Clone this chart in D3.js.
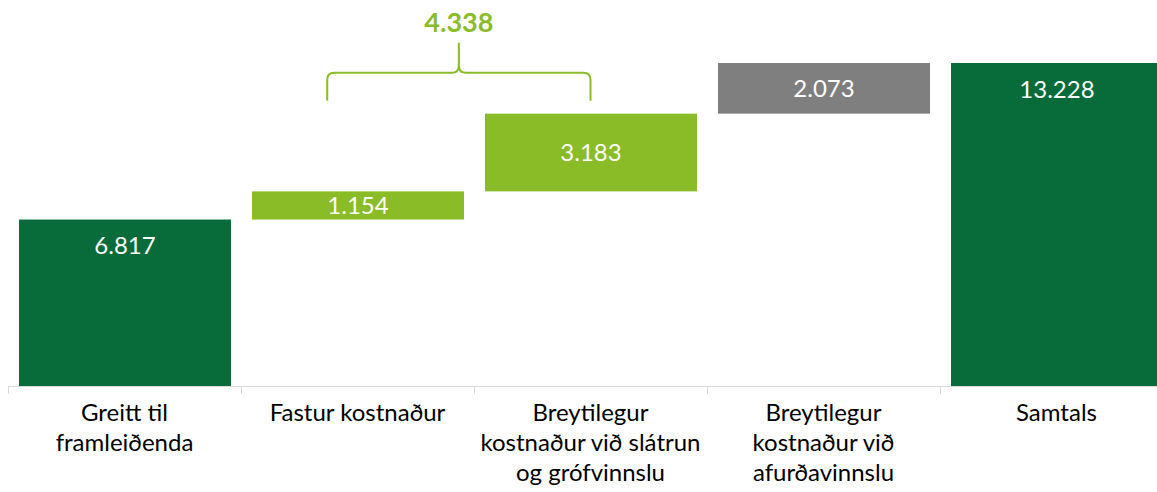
<!DOCTYPE html>
<html>
<head>
<meta charset="utf-8">
<script src="https://cdn.jsdelivr.net/npm/d3@7"></script>
<style>
  body { margin: 0; background: #fff; }
  svg { display: block; font-family: Lato, "Open Sans", sans-serif; }
</style>
</head>
<body>
<div id="chart"></div>
<script>
// chart data
var categories = ["Greitt til framleiðenda", "Fastur kostnaður", "Breytilegur kostnaður við slátrun og grófvinnslu", "Breytilegur kostnaður við afurðavinnslu", "Samtals"];
var labelLines = [["Greitt til", "framleiðenda"], ["Fastur kostnaður"], ["Breytilegur", "kostnaður við slátrun", "og grófvinnslu"], ["Breytilegur", "kostnaður við", "afurðavinnslu"], ["Samtals"]];
var values = [6.817, 1.154, 3.183, 2.073, 13.228];
var barTypes = ["total", "delta", "delta", "delta", "total"];
var valueLabels = ["6.817", "1.154", "3.183", "2.073", "13.228"];
var bracketValue = "4.338";
var bracketFrom = 1, bracketTo = 2;

// styling
var barColors = ["#076b3a", "#8abc28", "#8abc28", "#7f7f7f", "#076b3a"];
var accent = "#8abc28";

var svgWidth = 1157;
var svgHeight = 492;
var baseY = 386;

var svg = d3.select("#chart")
  .append("svg")
  .attr("width", svgWidth)
  .attr("height", svgHeight);

// work out floating bar starts (waterfall)
var running = 0;
var bars = values.map(function(v, i) {
  var start = barTypes[i] === "total" ? 0 : running;
  var end = barTypes[i] === "total" ? v : running + v;
  if (barTypes[i] === "total") running = v; else running = end;
  return {cat: categories[i], start: start, end: end, i: i};
});

var x = d3.scaleBand()
  .domain(categories)
  .range([8, 8 + 233 * 5])
  .padding(0);

var y = d3.scaleLinear()
  .domain([0, 13.228])
  .range([baseY, 63]);

var inset = 11;
var barW = x.bandwidth() - 2 * inset + 1;

// bars
svg.selectAll("rect.bar")
  .data(bars)
  .enter()
  .append("rect")
  .attr("class", "bar")
  .attr("x", d => x(d.cat) + inset)
  .attr("width", barW)
  .attr("y", d => y(d.end))
  .attr("height", d => y(d.start) - y(d.end))
  .attr("fill", d => barColors[d.i]);

// value labels: centred in floating bars, near top in totals
svg.selectAll("text.val")
  .data(bars)
  .enter()
  .append("text")
  .attr("class", "val")
  .attr("x", d => x(d.cat) + inset + barW / 2)
  .attr("y", function(d) {
    if (barTypes[d.i] === "total") return y(d.end) + 26;
    return (y(d.start) + y(d.end)) / 2;
  })
  .attr("dy", "0.36em")
  .attr("text-anchor", "middle")
  .attr("fill", "#fff")
  .attr("font-size", "24px")
  .text(d => valueLabels[d.i]);

// x axis
var xAxis = svg.append("g");
xAxis.append("line")
  .attr("x1", 8).attr("x2", svgWidth)
  .attr("y1", baseY + 0.5).attr("y2", baseY + 0.5)
  .attr("stroke", "#d9d9d9");
xAxis.selectAll("line.tick")
  .data(categories)
  .enter()
  .append("line")
  .attr("class", "tick")
  .attr("x1", d => x(d) + 0.5).attr("x2", d => x(d) + 0.5)
  .attr("y1", baseY).attr("y2", baseY + 8)
  .attr("stroke", "#d9d9d9");

var catLabels = xAxis.selectAll("text.cat")
  .data(categories)
  .enter()
  .append("text")
  .attr("class", "cat")
  .attr("text-anchor", "middle")
  .attr("font-size", "24px")
  .attr("fill", "#000");
catLabels.each(function(d, i) {
  var t = d3.select(this);
  labelLines[i].forEach(function(line, k) {
    t.append("tspan")
      .attr("x", x(d) + x.bandwidth() / 2)
      .attr("y", 421 + k * 30)
      .text(line);
  });
});

// bracket over the two cost bars
var bx1 = x(categories[bracketFrom]) + x.bandwidth() * 0.37;
var bx2 = x(categories[bracketTo]) + x.bandwidth() / 2;
var bmid = (bx1 + bx2) / 2;
var bBottom = y(bars[bracketTo].end) - 13;
var bLine = bBottom - 28;
var bTip = bLine - 30;
var r = 7;
var path = d3.path();
path.moveTo(bx1, bBottom);
path.lineTo(bx1, bLine + r);
path.quadraticCurveTo(bx1, bLine, bx1 + r, bLine);
path.lineTo(bmid - r, bLine);
path.quadraticCurveTo(bmid, bLine, bmid, bLine - r);
path.lineTo(bmid, bTip);
path.moveTo(bmid, bLine - r);
path.quadraticCurveTo(bmid, bLine, bmid + r, bLine);
path.lineTo(bx2 - r, bLine);
path.quadraticCurveTo(bx2, bLine, bx2, bLine + r);
path.lineTo(bx2, bBottom);

svg.append("path")
  .attr("d", path.toString())
  .attr("fill", "none")
  .attr("stroke", accent)
  .attr("stroke-width", 2);

svg.append("text")
  .attr("x", bmid)
  .attr("y", 32)
  .attr("text-anchor", "middle")
  .attr("font-size", "27px")
  .attr("font-weight", "bold")
  .attr("fill", accent)
  .text(bracketValue);
</script>
</body>
</html>
